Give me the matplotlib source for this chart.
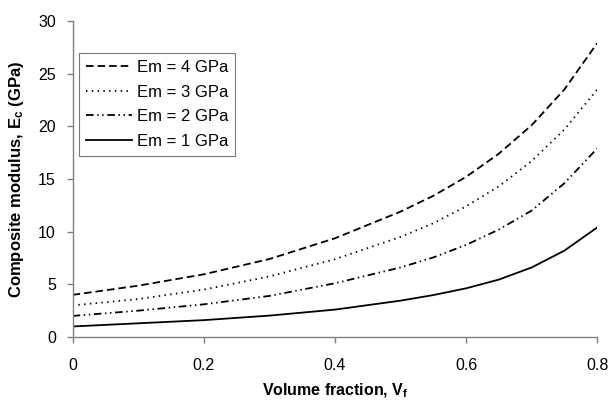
import numpy as np
import matplotlib
matplotlib.use('agg')
import matplotlib.pyplot as plt

plt.rcParams['font.family'] = ['Liberation Sans', 'DejaVu Sans']
plt.rcParams['mathtext.fontset'] = 'custom'
plt.rcParams['mathtext.rm'] = 'Liberation Sans'
plt.rcParams['mathtext.bf'] = 'Liberation Sans:bold'

# Values
vf = [0.0, 0.1, 0.2, 0.3, 0.4, 0.5, 0.55, 0.6, 0.65, 0.7, 0.75, 0.8]
em4 = [4.0, 4.87, 5.95, 7.4, 9.37, 11.9, 13.4, 15.2, 17.4, 20.1, 23.5, 27.9]
em3 = [3.0, 3.6, 4.5, 5.75, 7.38, 9.5, 10.8, 12.4, 14.3, 16.7, 19.7, 23.5]
em2 = [2.0, 2.5, 3.1, 3.9, 5.1, 6.6, 7.55, 8.74, 10.2, 12.0, 14.6, 17.9]
em1 = [1.0, 1.3, 1.6, 2.03, 2.6, 3.45, 3.98, 4.62, 5.45, 6.6, 8.2, 10.4]
labels = ['Em = 4 GPa', 'Em = 3 GPa', 'Em = 2 GPa', 'Em = 1 GPa']
xticks = [0, 0.2, 0.4, 0.6, 0.8]
xticklabels = ['0', '0.2', '0.4', '0.6', '0.8']
yticks = [0, 5, 10, 15, 20, 25, 30]

fig = plt.figure(figsize=(6.1, 4.0), dpi=100)
ax = fig.add_axes([0.119, 0.1575, 0.86, 0.79])

lw = 1.3
ax.plot(vf, em4, color='black', lw=lw, dashes=(4.2, 2.2), label=labels[0])
ax.plot(vf, em3, color='black', lw=lw, dashes=(0.8, 2.4), label=labels[1])
ax.plot(vf, em2, color='black', lw=lw, dashes=(4.2, 2.0, 0.8, 2.0, 0.8, 2.0), label=labels[2])
ax.plot(vf, em1, color='black', lw=lw, linestyle='-', label=labels[3])

ax.set_xlim(0, 0.8)
ax.set_ylim(0, 30)
ax.set_xticks(xticks)
ax.set_xticklabels(xticklabels)
ax.set_yticks(yticks)

for s in ['top', 'right']:
    ax.spines[s].set_visible(False)
for s in ['left', 'bottom']:
    ax.spines[s].set_color('#808080')
    ax.spines[s].set_linewidth(1.0)
ax.tick_params(axis='both', direction='out', length=4, width=1.0, color='#808080',
               labelsize=11.5, labelcolor='black')
ax.tick_params(axis='x', pad=11)
ax.tick_params(axis='y', pad=8)

ax.set_xlabel(r'Volume fraction, $\mathbf{V_f}$', fontsize=11.5, fontweight='bold', labelpad=6)
ax.set_ylabel(r'Composite modulus, $\mathbf{E_c}$ (GPa)', fontsize=12, fontweight='bold', labelpad=9)

leg = ax.legend(loc='upper left', bbox_to_anchor=(0.012, 0.898), fontsize=12,
                frameon=True, fancybox=False, handlelength=2.8, handletextpad=0.3,
                labelspacing=0.58, borderpad=0.4, borderaxespad=0)
leg.get_frame().set_edgecolor('#555555')
leg.get_frame().set_linewidth(0.8)

plt.savefig('out.png', dpi=100)
